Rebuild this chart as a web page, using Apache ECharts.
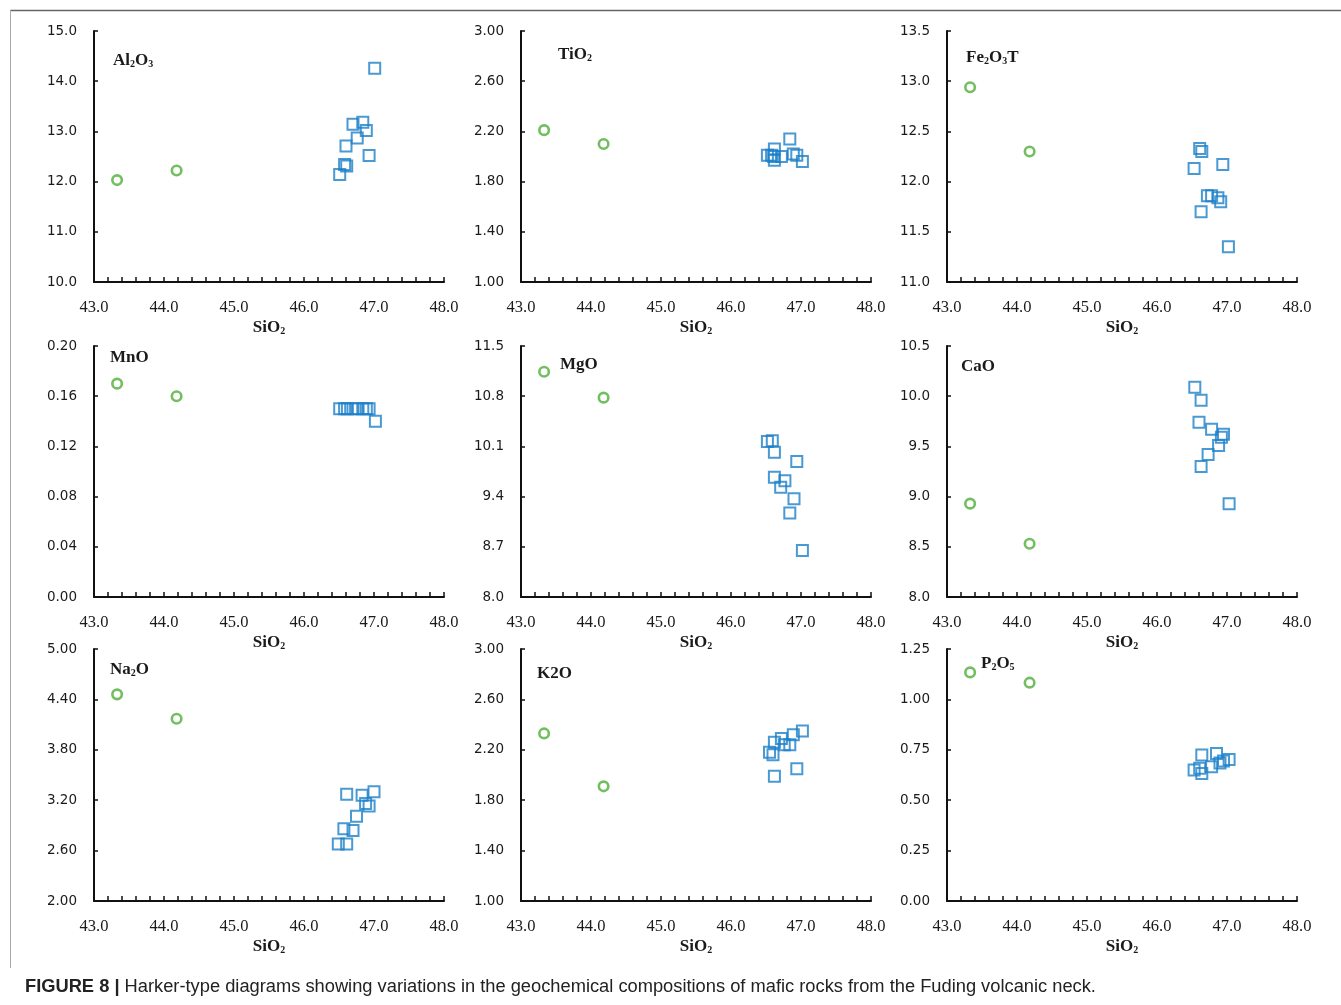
<!DOCTYPE html>
<html><head><meta charset="utf-8">
<script src="https://cdn.jsdelivr.net/npm/echarts@6/dist/echarts.min.js"></script>
<style>html,body{margin:0;padding:0;background:#fff}#c{width:1341px;height:1005px}</style>
</head><body><div id="c"></div>
<script>
// ---- data ----
const greenSiO2 = [43.33, 44.18];

const al2o3SiO2 = [47.01, 46.70, 46.84, 46.89, 46.76, 46.60, 46.93, 46.58, 46.61, 46.51];
const al2o3Blue = [14.26, 13.14, 13.18, 13.02, 12.87, 12.71, 12.52, 12.34, 12.31, 12.14];
const al2o3Green = [12.03, 12.22];

const tio2SiO2 = [46.84, 46.62, 46.52, 46.58, 46.61, 46.62, 46.72, 46.89, 46.94, 47.02];
const tio2Blue = [2.14, 2.06, 2.01, 2.01, 2.00, 1.97, 2.00, 2.02, 2.01, 1.96];
const tio2Green = [2.21, 2.10];

const fe2o3SiO2 = [46.61, 46.64, 46.53, 46.94, 46.72, 46.78, 46.87, 46.91, 46.63, 47.02];
const fe2o3Blue = [12.33, 12.30, 12.13, 12.17, 11.86, 11.86, 11.84, 11.80, 11.70, 11.35];
const fe2o3Green = [12.94, 12.30];

const mnoSiO2 = [46.51, 46.58, 46.62, 46.70, 46.76, 46.84, 46.89, 46.93, 47.02];
const mnoBlue = [0.15, 0.15, 0.15, 0.15, 0.15, 0.15, 0.15, 0.15, 0.14];
const mnoGreen = [0.17, 0.16];

const mgoSiO2 = [46.52, 46.59, 46.62, 46.94, 46.62, 46.77, 46.71, 46.90, 46.84, 47.02];
const mgoBlue = [10.17, 10.18, 10.02, 9.89, 9.67, 9.62, 9.53, 9.37, 9.17, 8.65];
const mgoGreen = [11.14, 10.78];

const caoSiO2 = [46.54, 46.63, 46.60, 46.78, 46.95, 46.92, 46.88, 46.73, 46.63, 47.03];
const caoBlue = [10.09, 9.96, 9.74, 9.67, 9.62, 9.59, 9.51, 9.42, 9.30, 8.93];
const caoGreen = [8.93, 8.53];

const na2oSiO2 = [46.61, 47.00, 46.83, 46.88, 46.93, 46.75, 46.57, 46.70, 46.49, 46.61];
const na2oBlue = [3.27, 3.30, 3.26, 3.16, 3.13, 3.01, 2.86, 2.84, 2.68, 2.68];
const na2oGreen = [4.46, 4.17];

const k2oSiO2 = [47.02, 46.89, 46.72, 46.62, 46.84, 46.76, 46.55, 46.60, 46.94, 46.62];
const k2oBlue = [2.35, 2.32, 2.29, 2.26, 2.24, 2.24, 2.18, 2.16, 2.05, 1.99];
const k2oGreen = [2.33, 1.91];

const p2o5SiO2 = [46.64, 46.85, 46.95, 47.03, 46.90, 46.78, 46.53, 46.61, 46.64];
const p2o5Blue = [0.724, 0.732, 0.695, 0.702, 0.685, 0.666, 0.650, 0.658, 0.633];
const p2o5Green = [1.134, 1.083];

// axis ranges [min, max, interval, decimals]
const xRange = [43, 48, 1, 1];
const yRanges = [
  [10, 15, 1, 1], [1, 3, 0.4, 2], [11, 13.5, 0.5, 1],
  [0, 0.2, 0.04, 2], [8, 11.5, 0.7, 1], [8, 10.5, 0.5, 1],
  [2, 5, 0.6, 2], [1, 3, 0.4, 2], [0, 1.25, 0.25, 2]
];
const panelTitles = [
  '{b|Al}{s|2}{b|O}{s|3}', '{b|TiO}{s|2}', '{b|Fe}{s|2}{b|O}{s|3}{b|T}',
  '{b|MnO}', '{b|MgO}', '{b|CaO}',
  '{b|Na}{s|2}{b|O}', '{b|K2O}', '{b|P}{s|2}{b|O}{s|5}'
];
const xName = '{b|SiO}{s|2}';
const caption = ['FIGURE 8 |', ' Harker-type diagrams showing variations in the geochemical compositions of mafic rocks from the Fuding volcanic neck.'];

const blueX = [al2o3SiO2, tio2SiO2, fe2o3SiO2, mnoSiO2, mgoSiO2, caoSiO2, na2oSiO2, k2oSiO2, p2o5SiO2];
const blueY = [al2o3Blue, tio2Blue, fe2o3Blue, mnoBlue, mgoBlue, caoBlue, na2oBlue, k2oBlue, p2o5Blue];
const greenY = [al2o3Green, tio2Green, fe2o3Green, mnoGreen, mgoGreen, caoGreen, na2oGreen, k2oGreen, p2o5Green];

// ---- layout ----
const colLeft = [94, 521, 947];
const rowTop = [31, 346, 649];
const rowH = [251, 251, 252];
const titlePos = [
  [113, 60], [558, 54], [966, 57],
  [110, 357], [560, 364], [961, 366],
  [110, 669], [537, 673], [981, 663]
];

const AX = '#111';
const richTitle = {
  b: {fontFamily: 'Liberation Serif', fontWeight: 'bold', fontSize: 17, color: '#1a1a1a', lineHeight: 19, verticalAlign: 'bottom'},
  s: {fontFamily: 'Liberation Serif', fontWeight: 'bold', fontSize: 10, color: '#1a1a1a', lineHeight: 12, verticalAlign: 'bottom'}
};

const grids = [], xAxes = [], yAxes = [], series = [], titles = [];
for (let i = 0; i < 9; i++) {
  const r = Math.floor(i / 3), c = i % 3;
  grids.push({left: colLeft[c], top: rowTop[r], width: 350, height: rowH[r]});
  xAxes.push({
    type: 'value', gridIndex: i, min: xRange[0], max: xRange[1], interval: xRange[2],
    axisLine: {show: true, onZero: false, lineStyle: {color: AX, width: 2}},
    axisTick: {show: true, inside: true, length: 5, lineStyle: {color: AX, width: 1.5}},
    minorTick: {show: true, splitNumber: 5, length: 5, lineStyle: {color: AX, width: 1.5}},
    splitLine: {show: false},
    axisLabel: {margin: 17, fontFamily: 'Liberation Serif', fontSize: 16.5, color: '#1a1a1a',
      formatter: v => v.toFixed(xRange[3])},
    name: xName, nameLocation: 'middle', nameGap: 35,
    nameTextStyle: {rich: richTitle}
  });
  const yr = yRanges[i];
  yAxes.push({
    type: 'value', gridIndex: i, min: yr[0], max: yr[1], interval: yr[2],
    axisLine: {show: true, onZero: false, lineStyle: {color: AX, width: 2}},
    axisTick: {show: true, inside: true, length: 4, lineStyle: {color: AX, width: 1.5}},
    splitLine: {show: false},
    axisLabel: {margin: 17, fontFamily: 'DejaVu Sans', fontSize: 13.5, color: '#1a1a1a',
      formatter: v => v.toFixed(yr[3])}
  });
  series.push({
    type: 'scatter', xAxisIndex: i, yAxisIndex: i,
    data: greenSiO2.map((x, k) => [x, greenY[i][k]]),
    symbol: 'circle', symbolSize: 9.5,
    itemStyle: {color: 'rgba(255,255,255,0)', borderColor: '#4fae3a', borderWidth: 2.6},
    emphasis: {disabled: true}, silent: true
  });
  series.push({
    type: 'scatter', xAxisIndex: i, yAxisIndex: i,
    data: blueX[i].map((x, k) => [x, blueY[i][k]]),
    symbol: 'rect', symbolSize: 11,
    itemStyle: {color: 'rgba(255,255,255,0)', borderColor: '#1b80c8', borderWidth: 2},
    emphasis: {disabled: true}, silent: true
  });
  titles.push({
    text: panelTitles[i], left: titlePos[i][0], top: titlePos[i][1] - 10, padding: 0,
    textStyle: {rich: richTitle}
  });
}

const chart = echarts.init(document.getElementById('c'), null, {renderer: 'canvas'});
chart.setOption({
  animation: false,
  backgroundColor: '#fff',
  title: titles,
  grid: grids, xAxis: xAxes, yAxis: yAxes, series: series,
  graphic: [
    {type: 'line', shape: {x1: 10, y1: 10.5, x2: 1341, y2: 10.5}, style: {stroke: '#666', lineWidth: 1.5}, silent: true},
    {type: 'line', shape: {x1: 10.5, y1: 10, x2: 10.5, y2: 968}, style: {stroke: '#aaa', lineWidth: 1}, silent: true},
    {type: 'text', left: 25, top: 978, silent: true,
      style: {
        text: '{b|' + caption[0] + '}{r|' + caption[1] + '}',
        rich: {
          b: {fontFamily: 'Liberation Sans', fontWeight: 'bold', fontSize: 18.3, fill: '#222'},
          r: {fontFamily: 'Liberation Sans', fontSize: 18.3, fill: '#222'}
        }
      }}
  ]
});
</script>
</body></html>
